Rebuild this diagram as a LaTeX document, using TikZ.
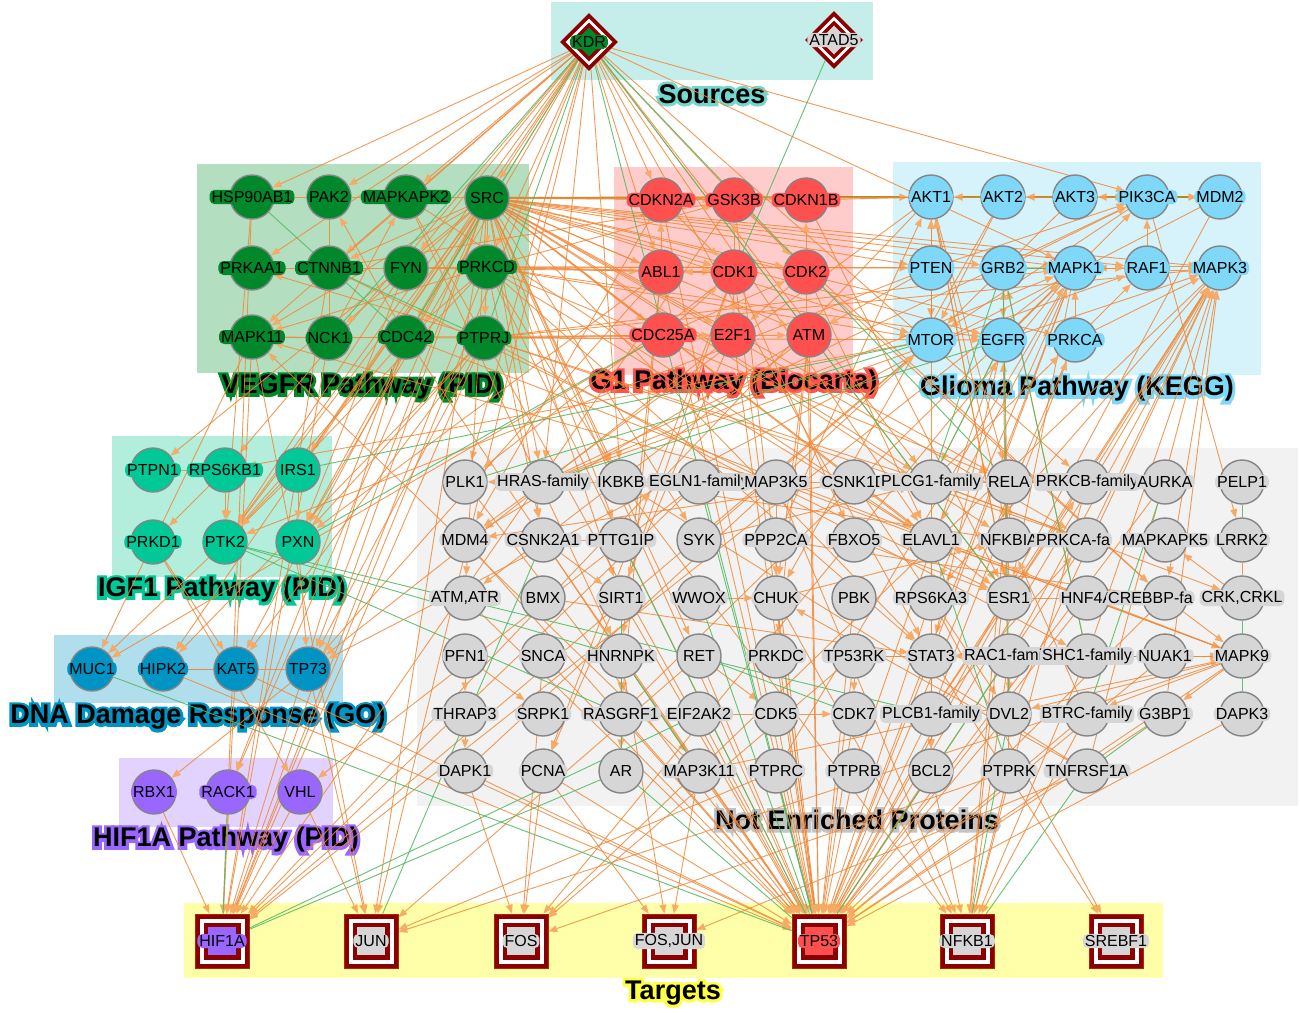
\documentclass[tikz,border=0pt]{standalone}
\usepackage{fontspec}
\setmainfont{Liberation Sans}
\newfontfamily\halofont[FakeBold=22]{Liberation Sans Bold}
\usetikzlibrary{shapes.geometric,arrows.meta}
\definecolor{dred}{HTML}{8B0000}
\definecolor{vegB}{HTML}{B3DFC0}
\definecolor{vegN}{HTML}{00882A}
\definecolor{g1B}{HTML}{FFCCCC}
\definecolor{g1N}{HTML}{FF5050}
\definecolor{glB}{HTML}{D6F2FB}
\definecolor{glN}{HTML}{80D8F8}
\definecolor{igB}{HTML}{B3EEDC}
\definecolor{igN}{HTML}{00C896}
\definecolor{dnB}{HTML}{B0DEEC}
\definecolor{dnN}{HTML}{0094C4}
\definecolor{hiB}{HTML}{E1D3FD}
\definecolor{hiN}{HTML}{9966FF}
\definecolor{neB}{HTML}{F2F2F2}
\definecolor{neN}{HTML}{D6D6D6}
\definecolor{neH}{HTML}{C4C4C4}
\definecolor{soB}{HTML}{C5EEEA}
\definecolor{soH}{HTML}{74D6CE}
\definecolor{taB}{HTML}{FFFFAA}
\definecolor{taH}{HTML}{FFFF44}
\definecolor{orc}{HTML}{F0893A}
\definecolor{ortip}{HTML}{F6AA66}
\definecolor{grc}{HTML}{55BB66}
\definecolor{olc}{HTML}{B08A20}
\definecolor{bord}{HTML}{858585}
\pgfdeclarelayer{bg}\pgfdeclarelayer{edges}\pgfdeclarelayer{lab}
\pgfsetlayers{bg,edges,main,lab}
\tikzset{
 pnode/.style={circle, draw=bord, line width=1.4pt, minimum size=44pt, inner sep=0pt},
 plab/.style={rounded corners=5pt, inner xsep=2pt, inner ysep=1.5pt, font=\fontsize{16}{18}\selectfont, text=black},
 oe/.style={draw=orc, line width=0.9pt, draw opacity=0.85, -{Triangle[length=9pt,width=7pt,color=ortip]}},
 oa/.style={draw=orc, line width=0.9pt, draw opacity=0.85},
 ge/.style={draw=grc, line width=0.9pt, draw opacity=0.9},
 ol/.style={draw=olc, line width=2pt, -{Triangle[length=9pt,width=7pt,color=ortip]}},
 ttl/.style={font=\fontsize{27}{30}\selectfont\bfseries, text=black, inner sep=0pt},
 ttlh/.style={font=\fontsize{27}{30}\halofont, inner sep=0pt},
}
\newcommand\protnode[5]{%
  \node[pnode, fill=#4] (#1) at (#2,#3) {};
  \begin{pgfonlayer}{lab}\node[plab, fill=#4] at (#2,#3) {#5};\end{pgfonlayer}}
% node whose label is partly covered by its right neighbour: only the visible part, left-anchored
\newcommand\protnodecut[6]{%
  \node[pnode, fill=#4] (#1) at (#2,#3) {};
  \begin{pgfonlayer}{lab}\node[plab, fill=#4, anchor=west] at (#6,#3) {#5};\end{pgfonlayer}}
\newcommand\targnode[5]{%
  \node[rectangle, minimum size=54pt, inner sep=0pt, fill=dred, draw=dred!70!orange, line width=0.6pt] (#1) at (#2,#3) {};
  \node[rectangle, minimum size=45pt, inner sep=0pt, fill=white] at (#2,#3) {};
  \node[rectangle, minimum size=37pt, inner sep=0pt, fill=dred] at (#2,#3) {};
  \node[rectangle, minimum size=28pt, inner sep=0pt, fill=#4] at (#2,#3) {};
  \begin{pgfonlayer}{lab}\node[plab, fill=#4] at (#2,#3) {#5};\end{pgfonlayer}}
\newcommand\srcnode[5]{%
  \node[diamond, aspect=1, minimum size=58pt, inner sep=0pt, fill=dred] (#1) at (#2,#3) {};
  \node[diamond, aspect=1, minimum size=47pt, inner sep=0pt, fill=white] at (#2,#3) {};
  \node[diamond, aspect=1, minimum size=39pt, inner sep=0pt, fill=dred] at (#2,#3) {};
  \node[diamond, aspect=1, minimum size=29pt, inner sep=0pt, fill=#4] at (#2,#3) {};
  \begin{pgfonlayer}{lab}\node[plab, fill=#4] at (#2,#3) {#5};\end{pgfonlayer}}
\newcommand\halotitle[5]{%
  \node[ttlh, text=#4] at (#2,#3) {#5};
  \node[ttl] (#1) at (#2,#3) {#5};}
\begin{document}
\begin{tikzpicture}[x=1pt,y=-1pt]
\useasboundingbox (0,0) rectangle (1300,1012);
\begin{pgfonlayer}{bg}
 \fill[white] (0,0) rectangle (1300,1012);
 \fill[soB] (551,2) rectangle (873,80);
 \fill[vegB] (197,164) rectangle (529,373);
 \fill[g1B] (614,167) rectangle (853,375);
 \fill[glB] (893,162) rectangle (1261,375);
 \fill[igB] (112,436) rectangle (332,577);
 \fill[dnB] (54,635) rectangle (343,703);
 \fill[hiB] (119,758) rectangle (333,827);
 \fill[neB] (417,448) rectangle (1298,806);
 \fill[taB] (184,903) rectangle (1163,978);
 \halotitle{tso}{712}{94}{soH}{Sources}
 \halotitle{tveg}{362}{387}{vegN}{VEGFR Pathway (PID)}
 \halotitle{tg1}{734}{383}{g1N}{G1 Pathway (Biocarta)}
 \halotitle{tgl}{1077}{389}{glN}{Glioma Pathway (KEGG)}
 \halotitle{tig}{222}{590}{igN}{IGF1 Pathway (PID)}
 \halotitle{tdn}{198}{717}{dnN}{DNA Damage Response (GO)}
 \halotitle{thi}{226}{840}{hiN}{HIF1A Pathway (PID)}
 \halotitle{tne}{857}{820}{neH}{Not Enriched Proteins}
 \halotitle{tta}{673}{993}{taH}{Targets}
\end{pgfonlayer}
% sources
\srcnode{kdr}{589}{42}{vegN}{KDR}
\srcnode{atad5}{834}{40}{neN}{ATAD5}
% VEGFR
\protnode{hsp}{252}{197}{vegN}{HSP90AB1}
\protnode{pak2}{329}{197}{vegN}{PAK2}
\protnode{mapkapk2}{406}{197}{vegN}{MAPKAPK2}
\protnode{src}{487}{198}{vegN}{SRC}
\protnode{prkaa1}{252}{268}{vegN}{PRKAA1}
\protnode{ctnnb1}{329}{268}{vegN}{CTNNB1}
\protnode{fyn}{406}{268}{vegN}{FYN}
\protnode{prkcd}{487}{267}{vegN}{PRKCD}
\protnode{mapk11}{252}{337}{vegN}{MAPK11}
\protnode{nck1}{329}{338}{vegN}{NCK1}
\protnode{cdc42}{406}{337}{vegN}{CDC42}
\protnode{ptprj}{484}{338}{vegN}{PTPRJ}
% G1
\protnode{cdkn2a}{661}{200}{g1N}{CDKN2A}
\protnode{gsk3b}{734}{200}{g1N}{GSK3B}
\protnode{cdkn1b}{806}{200}{g1N}{CDKN1B}
\protnode{abl1}{661}{272}{g1N}{ABL1}
\protnode{cdk1}{734}{272}{g1N}{CDK1}
\protnode{cdk2}{806}{272}{g1N}{CDK2}
\protnode{cdc25a}{663}{335}{g1N}{CDC25A}
\protnode{e2f1}{733}{335}{g1N}{E2F1}
\protnode{atm}{809}{335}{g1N}{ATM}
% Glioma
\protnode{akt1}{931}{197}{glN}{AKT1}
\protnode{akt2}{1003}{197}{glN}{AKT2}
\protnode{akt3}{1075}{197}{glN}{AKT3}
\protnode{pik3ca}{1147}{197}{glN}{PIK3CA}
\protnode{mdm2}{1220}{197}{glN}{MDM2}
\protnode{pten}{931}{268}{glN}{PTEN}
\protnode{grb2}{1003}{268}{glN}{GRB2}
\protnode{mapk1}{1075}{268}{glN}{MAPK1}
\protnode{raf1}{1147}{268}{glN}{RAF1}
\protnode{mapk3}{1220}{268}{glN}{MAPK3}
\protnode{mtor}{931}{340}{glN}{MTOR}
\protnode{egfr}{1003}{340}{glN}{EGFR}
\protnode{prkca}{1075}{340}{glN}{PRKCA}
% IGF1
\protnode{ptpn1}{153}{470}{igN}{PTPN1}
\protnode{rps6kb1}{225}{470}{igN}{RPS6KB1}
\protnode{irs1}{298}{470}{igN}{IRS1}
\protnode{prkd1}{153}{542}{igN}{PRKD1}
\protnode{ptk2}{225}{542}{igN}{PTK2}
\protnode{pxn}{298}{542}{igN}{PXN}
% DNA damage
\protnode{muc1}{92}{669}{dnN}{MUC1}
\protnode{hipk2}{163}{669}{dnN}{HIPK2}
\protnode{kat5}{236}{669}{dnN}{KAT5}
\protnode{tp73}{308}{669}{dnN}{TP73}
% HIF1A
\protnode{rbx1}{154}{792}{hiN}{RBX1}
\protnode{rack1}{228}{792}{hiN}{RACK1}
\protnode{vhl}{300}{792}{hiN}{VHL}
% not enriched
\protnode{plk1}{465}{482}{neN}{PLK1}
\protnode{hras}{543}{482}{neN}{HRAS-family}
\protnode{ikbkb}{621}{482}{neN}{IKBKB}
\protnode{egln1}{699}{482}{neN}{EGLN1-family}
\protnode{map3k5}{776}{482}{neN}{MAP3K5}
\protnode{csnk1d}{854}{482}{neN}{CSNK1D}
\protnode{plcg1}{931}{482}{neN}{PLCG1-family}
\protnode{rela}{1009}{482}{neN}{RELA}
\protnode{prkcb}{1087}{482}{neN}{PRKCB-family}
\protnode{aurka}{1165}{482}{neN}{AURKA}
\protnode{pelp1}{1242}{482}{neN}{PELP1}
\protnode{mdm4}{465}{540}{neN}{MDM4}
\protnode{csnk2a1}{543}{540}{neN}{CSNK2A1}
\protnode{pttg1ip}{621}{540}{neN}{PTTG1IP}
\protnode{syk}{699}{540}{neN}{SYK}
\protnode{ppp2ca}{776}{540}{neN}{PPP2CA}
\protnode{fbxo5}{854}{540}{neN}{FBXO5}
\protnode{elavl1}{931}{540}{neN}{ELAVL1}
\protnode{nfkbia}{1009}{540}{neN}{NFKBIA}
\protnodecut{prkcaf}{1087}{540}{neN}{PRKCA-fa}{1034}
\protnode{mapkapk5}{1165}{540}{neN}{MAPKAPK5}
\protnode{lrrk2}{1242}{540}{neN}{LRRK2}
\protnode{atmatr}{465}{598}{neN}{ATM,ATR}
\protnode{bmx}{543}{598}{neN}{BMX}
\protnode{sirt1}{621}{598}{neN}{SIRT1}
\protnode{wwox}{699}{598}{neN}{WWOX}
\protnode{chuk}{776}{598}{neN}{CHUK}
\protnode{pbk}{854}{598}{neN}{PBK}
\protnode{rps6ka3}{931}{598}{neN}{RPS6KA3}
\protnode{esr1}{1009}{598}{neN}{ESR1}
\protnode{hnf4a}{1087}{598}{neN}{HNF4A}
\protnodecut{crebbp}{1165}{598}{neN}{CREBBP-fa}{1106}
\protnode{crk}{1242}{598}{neN}{CRK,CRKL}
\protnode{pfn1}{465}{656}{neN}{PFN1}
\protnode{snca}{543}{656}{neN}{SNCA}
\protnode{hnrnpk}{621}{656}{neN}{HNRNPK}
\protnode{ret}{699}{656}{neN}{RET}
\protnode{prkdc}{776}{656}{neN}{PRKDC}
\protnode{tp53rk}{854}{656}{neN}{TP53RK}
\protnode{stat3}{931}{656}{neN}{STAT3}
\protnode{rac1}{1009}{656}{neN}{RAC1-family}
\protnode{shc1}{1087}{656}{neN}{SHC1-family}
\protnode{nuak1}{1165}{656}{neN}{NUAK1}
\protnode{mapk9}{1242}{656}{neN}{MAPK9}
\protnode{thrap3}{465}{714}{neN}{THRAP3}
\protnode{srpk1}{543}{714}{neN}{SRPK1}
\protnode{rasgrf1}{621}{714}{neN}{RASGRF1}
\protnode{eif2ak2}{699}{714}{neN}{EIF2AK2}
\protnode{cdk5}{776}{714}{neN}{CDK5}
\protnode{cdk7}{854}{714}{neN}{CDK7}
\protnode{plcb1}{931}{714}{neN}{PLCB1-family}
\protnode{dvl2}{1009}{714}{neN}{DVL2}
\protnode{btrc}{1087}{714}{neN}{BTRC-family}
\protnode{g3bp1}{1165}{714}{neN}{G3BP1}
\protnode{dapk3}{1242}{714}{neN}{DAPK3}
\protnode{dapk1}{465}{771}{neN}{DAPK1}
\protnode{pcna}{543}{771}{neN}{PCNA}
\protnode{ar}{621}{771}{neN}{AR}
\protnode{map3k11}{699}{771}{neN}{MAP3K11}
\protnode{ptprc}{776}{771}{neN}{PTPRC}
\protnode{ptprb}{854}{771}{neN}{PTPRB}
\protnode{bcl2}{931}{771}{neN}{BCL2}
\protnode{ptprk}{1009}{771}{neN}{PTPRK}
\protnode{tnfrsf1a}{1087}{771}{neN}{TNFRSF1A}
% targets
\targnode{thif1a}{222}{941}{hiN}{HIF1A}
\targnode{tjun}{371}{941}{neN}{JUN}
\targnode{tfos}{521}{941}{neN}{FOS}
\targnode{tfosjun}{669}{941}{neN}{FOS,JUN}
\targnode{ttp53}{819}{941}{g1N}{TP53}
\targnode{tnfkb1}{967}{941}{neN}{NFKB1}
\targnode{tsrebf1}{1116}{941}{neN}{SREBF1}
% edges
\begin{pgfonlayer}{edges}
\foreach \a/\b in {hsp/pak2, pak2/mapkapk2, mapkapk2/src, prkaa1/ctnnb1, ctnnb1/fyn, fyn/prkcd, mapk11/nck1, nck1/cdc42, pak2/ctnnb1, ctnnb1/nck1, ptpn1/rps6kb1, hipk2/tp73, hipk2/kat5, nuak1/mapk9, lrrk2/crk, akt1/pten, stat3/rac1, tp53rk/stat3}
  \draw[oa] (\a) -- (\b);
\draw[oa] ([yshift=-2pt]raf1.east) -- ([yshift=-2pt]mapk3.west);
\draw[oa] ([yshift=2pt]raf1.east) -- ([yshift=2pt]mapk3.west);
\foreach \a/\b in {src/akt1, akt2/akt1, akt3/akt2, pik3ca/akt3, pik3ca/mdm2}
  \draw[ol] (\a) -- (\b);
\foreach \a/\b in {
 kdr/src, kdr/fyn, kdr/mapkapk2, kdr/pak2, kdr/ctnnb1, kdr/cdc42, kdr/prkcd, kdr/mapk11, kdr/prkaa1, kdr/hsp,
 kdr/irs1, kdr/ptk2, kdr/pxn, kdr/rps6kb1, kdr/thif1a, kdr/tjun, kdr/pik3ca, kdr/plcg1, kdr/hras, kdr/plk1,
 kdr/cdkn2a, kdr/abl1, kdr/cdk2, kdr/elavl1, kdr/esr1, kdr/mapk1, kdr/prkcb, kdr/ikbkb, kdr/stat3,
 src/gsk3b, src/cdkn1b, src/abl1, src/cdk1, src/cdk2, src/cdc25a, src/e2f1, src/atm, src/pten, src/grb2,
 src/mapk1, src/mtor, src/egfr, src/prkca, src/raf1, src/mapk3, src/pik3ca, src/hras, src/ikbkb, src/plcg1,
 src/rela, src/elavl1, src/esr1, src/stat3, src/csnk2a1, src/pttg1ip, src/syk, src/ptk2, src/pxn, src/irs1,
 src/ptpn1, src/kat5, src/tp73, src/hipk2, src/thif1a, src/tjun, src/ttp53, src/ret, src/atmatr, src/sirt1,
 src/prkcd, src/ctnnb1, src/cdc42, src/nck1, src/mapk11, src/rack1, src/nfkbia, src/prkcaf,
 prkcd/ptprj, prkcd/gsk3b, prkcd/cdk1, prkcd/abl1, prkcd/mtor, prkcd/pten, prkcd/elavl1, prkcd/rela,
 prkcd/ikbkb, prkcd/ttp53, prkcd/thif1a, prkcd/ptk2, prkcd/mapk1, prkcd/cdc42, prkcd/stat3, prkcd/csnk2a1,
 prkcd/egfr, prkcd/mapk11,
 ptprj/egfr, ptprj/mapk3, ptprj/mapk1, ptprj/atm, ptprj/cdc25a, ptprj/prkcaf, ptprj/thif1a, ptprj/pxn,
 ptprj/tp73, ptprj/kat5, ptprj/prkaa1, ptprj/mapk11, ptprj/hipk2, ptprj/plcg1, ptprj/shc1,
 cdc42/thif1a, cdc42/pak2, cdc42/ptk2, cdc42/e2f1, cdc42/map3k11, cdc42/rack1, cdc42/mapk9,
 fyn/ptk2, fyn/pxn, fyn/cdk1, mapk11/thif1a, mapk11/tjun, mapk11/muc1, ctnnb1/esr1, ctnnb1/thif1a,
 nck1/mapkapk2, nck1/thif1a, hsp/thif1a, hsp/ptk2, mapkapk2/ttp53, mapkapk2/hnrnpk, mapkapk2/elavl1,
 abl1/cdkn2a, cdkn2a/cdk1, cdk1/abl1, cdk1/gsk3b, cdk2/cdkn1b, cdk1/e2f1, cdk2/e2f1, cdc25a/cdk1,
 cdc25a/cdk2, pten/atm, cdk1/ttp53, cdk2/ttp53, atm/ttp53, e2f1/ttp53, cdkn2a/ttp53, abl1/ttp53,
 gsk3b/ttp53, cdk1/plk1, cdk1/fbxo5, cdk2/crebbp, abl1/hnrnpk, abl1/rasgrf1, atm/atmatr, e2f1/pcna,
 gsk3b/thif1a, gsk3b/ctnnb1, abl1/pxn, abl1/tp73, cdc25a/muc1, cdk1/sirt1, cdk2/elavl1, atm/chuk,
 atm/mdm4, atm/prkdc, e2f1/tp73, cdkn2a/mdm4, gsk3b/crebbp, cdkn1b/esr1, cdk1/pcna,
 raf1/mapk1, mapk1/raf1, prkca/mapk1, akt1/mtor, pten/mtor, egfr/mapk1, egfr/pik3ca, grb2/pik3ca,
 prkca/mapk3, egfr/mapk3, akt2/mtor, akt3/mtor, pik3ca/mtor, grb2/raf1, raf1/pik3ca, grb2/egfr,
 pten/pik3ca, mtor/akt1, akt1/rela, akt1/nfkbia, akt1/cdkn1b, akt1/mdm4, akt2/chuk, mapk1/elavl1,
 mapk1/rps6ka3, mapk3/rps6ka3, mapk1/tfos, mapk3/tfos, mapk1/esr1, mapk3/esr1, mapk1/thif1a,
 akt1/thif1a, mtor/thif1a, mtor/rps6kb1, pten/ptk2, egfr/stat3, egfr/plcg1, shc1/grb2, mapk3/crebbp,
 akt1/esr1, mdm2/ttp53, mapk1/ttp53, mapk3/ttp53, prkca/raf1, prkca/ttp53, mdm2/tp73, pik3ca/lrrk2,
 prkcaf/mapk3, prkcb/mapk3, plcb1/mapk3, rac1/mapk3, dvl2/mapk3, shc1/mapk3, stat3/mapk1, ptprc/mapk1,
 rasgrf1/mapk1, hras/mapk1, hras/raf1, hras/pik3ca, plcg1/prkca, esr1/akt1, esr1/grb2, syk/mtor,
 plcb1/prkca, tnfrsf1a/mapk3, g3bp1/mapk3, ptprb/egfr, ptprk/egfr, bcl2/akt1, dapk1/mtor,
 irs1/ptk2, rps6kb1/prkd1, irs1/pxn, rps6kb1/ptk2, ptk2/muc1, prkd1/kat5, pxn/tp73, prkd1/vhl,
 hipk2/ttp53, kat5/ttp53, tp73/rbx1, tp73/tjun, vhl/thif1a, rbx1/thif1a, vhl/tjun, egln1/thif1a, egln1/vhl,
 ikbkb/nfkbia, chuk/nfkbia, nfkbia/rela, btrc/nfkbia, tnfrsf1a/ikbkb, tnfrsf1a/chuk, map3k5/mapk9,
 map3k11/mapk9, rac1/mapk9, shc1/mapk9, crebbp/mapk9, map3k5/chuk, map3k5/mapk11, map3k11/mapk11,
 csnk2a1/pttg1ip, csnk2a1/sirt1, csnk1d/mdm4, csnk1d/dvl2, plcg1/prkcaf, plcg1/prkcb, plcb1/prkcaf,
 plcb1/prkcb, elavl1/bcl2, esr1/crebbp, stat3/bcl2, aurka/plk1, crk/mapkapk5, plcg1/crk, mapk9/btrc,
 mapk9/g3bp1, mapk9/elavl1, mapk9/tp53rk, mapk9/dvl2, mapk9/stat3, pfn1/thrap3, thrap3/dapk1,
 rasgrf1/ar, cdk5/cdk7, cdk5/eif2ak2, tp53rk/cdk7, plcb1/bcl2, rac1/dvl2, hnrnpk/rasgrf1, pfn1/srpk1,
 ret/cdk5, ppp2ca/akt1, ppp2ca/crebbp, fbxo5/esr1, pbk/ttp53, wwox/chuk, syk/plcg1, bmx/stat3,
 sirt1/ttp53, csnk2a1/ttp53, plk1/ttp53, mdm4/ttp53, aurka/ttp53, hnrnpk/ttp53, prkdc/ttp53,
 tp53rk/ttp53, cdk5/ttp53, cdk7/ttp53, bcl2/ttp53, dapk1/ttp53, atmatr/ttp53, ret/ttp53,
 eif2ak2/ttp53, map3k11/ttp53, ptprc/ttp53, ptprb/ttp53, rps6ka3/ttp53, stat3/ttp53, dvl2/ttp53,
 g3bp1/ttp53, dapk3/ttp53, chuk/ttp53, snca/ttp53, pcna/ttp53, rasgrf1/ttp53, esr1/ttp53,
 plcb1/ttp53, btrc/ttp53, mapk9/ttp53, prkcaf/ttp53, nuak1/ttp53, crebbp/ttp53, hnf4a/ttp53,
 rela/tnfkb1, nfkbia/tnfkb1, ikbkb/tnfkb1, chuk/tnfkb1, btrc/tnfkb1, ptprk/tnfkb1, rac1/tnfkb1,
 shc1/tnfkb1, prkcb/tnfkb1, map3k5/tnfkb1, bcl2/tnfkb1,
 stat3/tsrebf1, rps6ka3/tsrebf1,
 hnrnpk/tfosjun, map3k11/tfosjun, pcna/tfosjun, tnfrsf1a/tfosjun,
 dapk1/tfos, pcna/tfos, snca/tfos, tp53rk/tfos, ptprk/tfos,
 ptprc/tjun, ret/tjun, mapk9/tjun}
  \draw[oe] (\a) -- (\b);
\foreach \a/\b in {kdr/nck1, kdr/ptprj, kdr/ttp53, kdr/rela, kdr/esr1, kdr/cdc42, atad5/cdk1,
 hsp/cdc42, ctnnb1/ptprj, irs1/mtor, pxn/cdc25a, ptk2/plcb1, ptk2/rasgrf1, ptk2/hnrnpk,
 muc1/ttp53, rack1/thif1a, ar/thif1a, eif2ak2/thif1a, pttg1ip/ttp53, wwox/ttp53, ar/ttp53,
 rac1/ttp53, egln1/ttp53, dvl2/tnfkb1, tnfrsf1a/tnfkb1, csnk2a1/tjun, pelp1/lrrk2, crk/mapk9,
 mapk9/dapk3, grb2/mapk1, grb2/shc1, grb2/plcg1, egfr/plcg1, grb2/dvl2, mtor/plk1, egfr/hras,
 hnrnpk/map3k11, ret/cdk7, elavl1/ptprk, g3bp1/tnfrsf1a, nuak1/shc1, aurka/btrc, sirt1/ar}
  \draw[ge] (\a) -- (\b);
\end{pgfonlayer}
\end{tikzpicture}
\end{document}
